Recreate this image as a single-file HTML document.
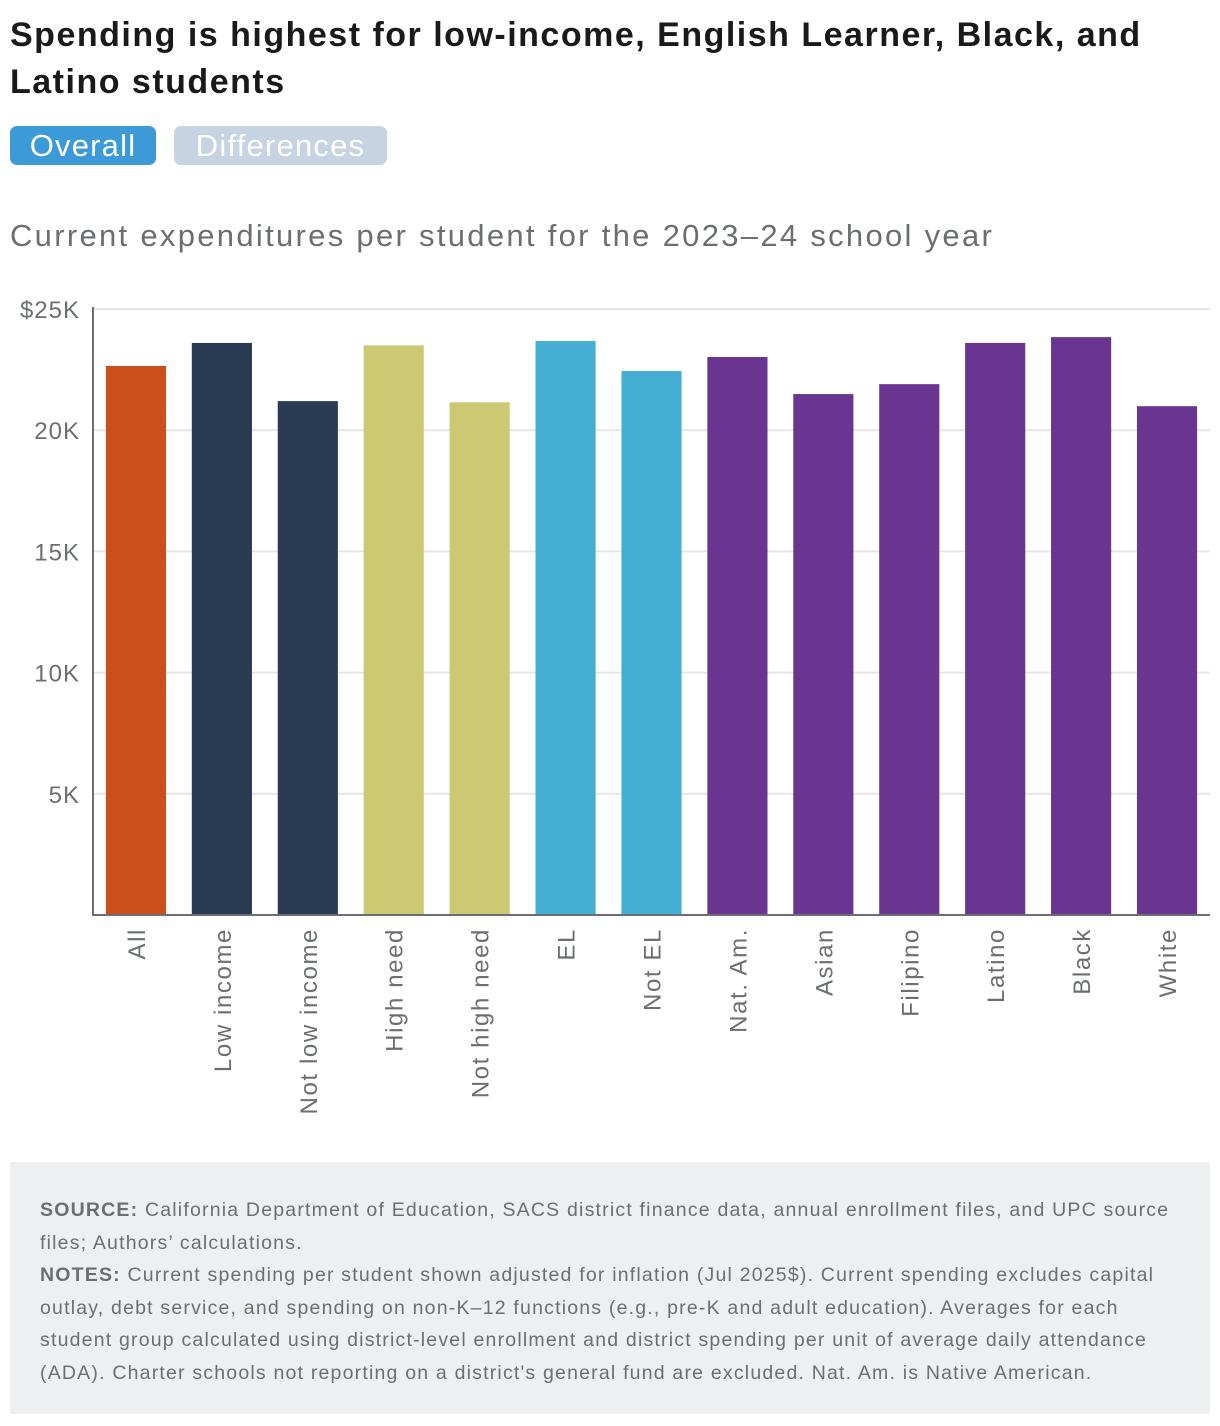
<!DOCTYPE html>
<html><head><meta charset="utf-8"><style>
body{margin:0;width:1220px;height:1426px;background:#fff;font-family:"Liberation Sans",sans-serif;position:relative;overflow:hidden}
.title{position:absolute;left:10px;top:12px;font-size:34px;font-weight:bold;line-height:47px;color:#1a1a1a;width:1180px;letter-spacing:1.5px}
.btn{position:absolute;top:126px;height:39px;border-radius:7px;font-size:31px;line-height:39px;color:#fff;text-align:center;letter-spacing:1.2px}
.sub{position:absolute;left:10px;top:218px;font-size:31px;color:#6b6e72;letter-spacing:2.3px}
.foot{position:absolute;left:10px;top:1162px;width:1200px;height:252px;background:#eeeff1;box-sizing:border-box;padding:32px 30px 0 30px;font-size:19.5px;line-height:32.5px;color:#6b6e72;letter-spacing:1.2px}
</style></head><body>
<div class="title">Spending is highest for low-income, English Learner, Black, and Latino students</div>
<div class="btn" style="left:10px;width:146px;background:#3d9ad8">Overall</div>
<div class="btn" style="left:174px;width:213px;background:#c5d3e3">Differences</div>
<div class="sub">Current expenditures per student for the 2023–24 school year</div>
<svg id="chart" width="1220" height="1150" style="position:absolute;left:0;top:0"></svg>
<div class="foot"><b>SOURCE:</b> California Department of Education, SACS district finance data, annual enrollment files, and UPC source files; Authors’ calculations.<br><b>NOTES:</b> Current spending per student shown adjusted for inflation (Jul 2025$). Current spending excludes capital outlay, debt service, and spending on non-K–12 functions (e.g., pre-K and adult education). Averages for each student group calculated using district-level enrollment and district spending per unit of average daily attendance (ADA). Charter schools not reporting on a district's general fund are excluded. Nat. Am. is Native American.</div>
<script>
const categories=["All","Low income","Not low income","High need","Not high need","EL","Not EL","Nat. Am.","Asian","Filipino","Latino","Black","White"];
const values=[22650,23600,21200,23500,21150,23680,22440,23020,21490,21900,23600,23840,20990];
const colors=["#c9501c","#293a53","#293a53","#cdc973","#cdc973","#44afd3","#44afd3","#693590","#693590","#693590","#693590","#693590","#693590"];
const ticks=[5000,10000,15000,20000,25000];
const tickLabels=["5K","10K","15K","20K","$25K"];
const NS="http://www.w3.org/2000/svg",svg=document.getElementById('chart');
const x0=93,x1=1210,yTop=309,yBot=915,maxV=25000;
const y=v=>yBot-(v/maxV)*(yBot-yTop);
const band=(x1-x0)/categories.length,bw=band*0.7;
const xb=i=>x0+band*i+(band-bw)/2;
function mk(t,a){const e=document.createElementNS(NS,t);for(const k in a)e.setAttribute(k,a[k]);svg.appendChild(e);return e;}
ticks.forEach((t,i)=>{
 const g=mk('line',{x1:x0,x2:x1,y1:y(t),y2:y(t),stroke:'#e6e6e6','stroke-width':2});
 
 
 const l=mk('text',{x:80,y:y(t)+9,'text-anchor':'end','font-size':24,'letter-spacing':1,fill:'#6b6e72','font-family':'Liberation Sans, sans-serif'});
 l.textContent=tickLabels[i];
 
 
});
categories.forEach((c,i)=>{
 const r=mk('rect',{x:xb(i),y:y(values[i]),width:bw,height:yBot-y(values[i]),fill:colors[i]});
 
 
 const cx=xb(i)+bw/2+9;
 const t=mk('text',{x:0,y:0,transform:`translate(${cx},928) rotate(-90)`,'text-anchor':'end','font-size':24,'letter-spacing':1.6,fill:'#6b6e72','font-family':'Liberation Sans, sans-serif'});
 t.textContent=c;
 
 
});
const ax=mk('line',{x1:x0,x2:x0,y1:yTop-2,y2:yBot+1,stroke:'#6b6e72','stroke-width':2});


const bx=mk('line',{x1:x0,x2:x1,y1:yBot,y2:yBot,stroke:'#6b6e72','stroke-width':2});


</script>
</body></html>
